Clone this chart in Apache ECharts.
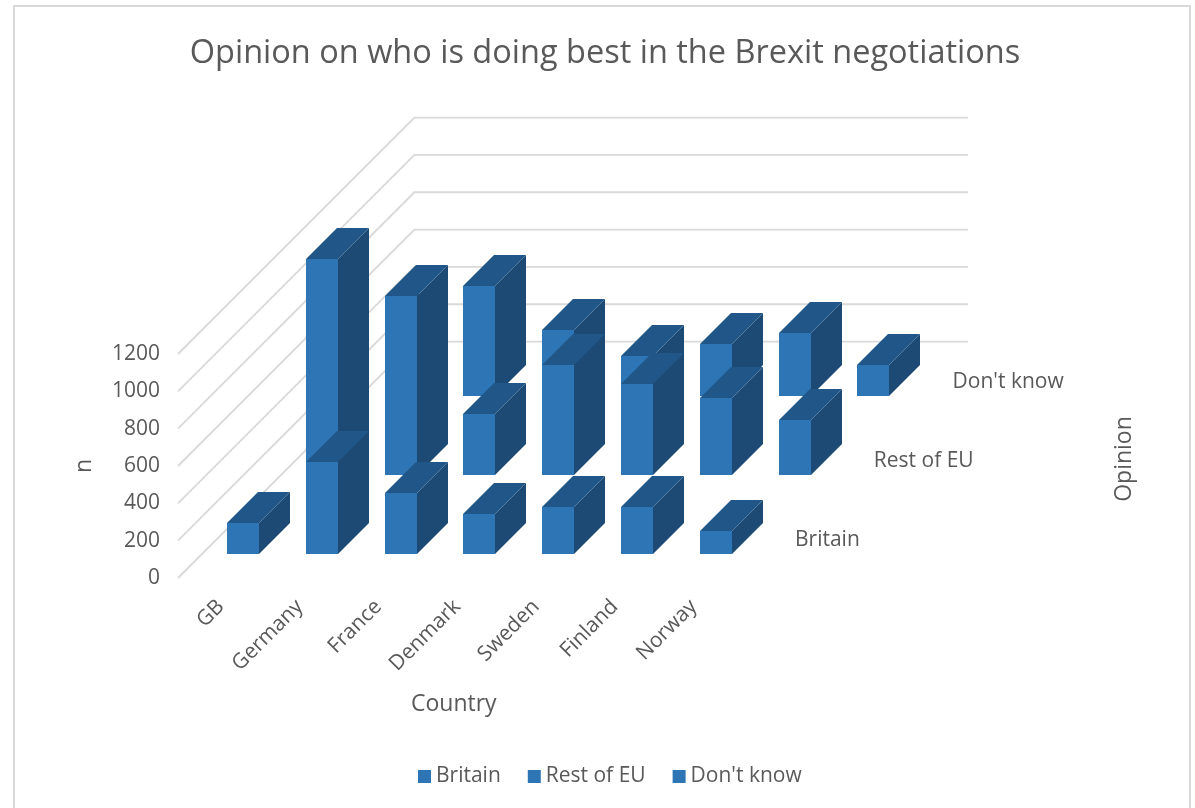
<!DOCTYPE html>
<html>
<head>
<meta charset="utf-8">
<title>Opinion on who is doing best in the Brexit negotiations</title>
<script src="https://cdn.jsdelivr.net/npm/echarts@6/dist/echarts.min.js"></script>
<style>
  html, body { margin: 0; padding: 0; background: #fff; }
  #chart { width: 1195px; height: 808px; }
</style>
</head>
<body>
<div id="chart"></div>
<script>
// Answers per country, one list per opinion
const countries = ['GB', 'Germany', 'France', 'Denmark', 'Sweden', 'Finland', 'Norway'];
const opinions = ['Britain', 'Rest of EU', "Don't know"];
const britain = [164, 491, 325, 214, 253, 250, 122];
const restOfEu = [1157, 960, 328, 593, 489, 411, 295];
const dontKnow = [380, 591, 357, 214, 279, 341, 168];
const valueTicks = [0, 200, 400, 600, 800, 1000, 1200];

const FONT = '"Open Sans", "Noto Sans", sans-serif';
const TEXT = '#595959';
const FRONT = '#2E75B6';
const TOP = '#215788';
const SIDE = '#1C4A75';

// Oblique projection: each step of depth moves a point up and to the right by one category band.
const DEPTH_OFFSET = 0.3046;  // gap from the floor's front edge to the first row, in bands
const BAR_WIDTH = 32;
const BAR_DEPTH = 31;

function shift(p, d) { return [p[0] + d, p[1] - d]; }

function poly(points, fill) {
  return {
    type: 'polygon',
    shape: { points: points },
    style: { fill: fill }
  };
}

function barRenderer(row) {
  return function (params, api) {
    const band = api.size([1, 0])[0];
    const front = band * (DEPTH_OFFSET + row);
    const base = shift(api.coord([api.value(0), 0]), front);
    const head = shift(api.coord([api.value(0), api.value(1)]), front);
    // Whole-pixel edges keep bars in different rows from bleeding through each other
    const x0 = Math.round(base[0] - BAR_WIDTH / 2 + 1.5);
    const x1 = x0 + BAR_WIDTH;
    const yb = Math.round(base[1]);
    const yt = Math.round(head[1]);
    const d = BAR_DEPTH;
    return {
      type: 'group',
      children: [
        poly([[x1, yb], [x1 + d, yb - d], [x1 + d, yt - d], [x1, yt]], SIDE),
        poly([[x0, yt], [x1, yt], [x1 + d, yt - d], [x0 + d, yt - d]], TOP),
        poly([[x0, yb], [x1, yb], [x1, yt], [x0, yt]], FRONT)
      ]
    };
  };
}

// Side wall and back wall rule for one value tick
function renderRule(params, api) {
  const band = api.size([1, 0])[0];
  const start = api.coord([0, api.value(0)]);
  const left = [start[0] - band / 2, start[1]];
  const corner = shift(left, band * 3);
  const right = [corner[0] + band * countries.length + 2, corner[1]];
  return {
    type: 'polyline',
    shape: { points: [left, corner, right] },
    style: { fill: 'none', stroke: '#D9D9D9', lineWidth: 1.8 }
  };
}

// Row names sit on the floor just past the last country
function renderRowName(params, api) {
  const band = api.size([1, 0])[0];
  const row = api.value(0);
  const last = api.coord([countries.length - 1, 0]);
  const p = shift([last[0] + band, last[1]], band * (DEPTH_OFFSET + row));
  return {
    type: 'text',
    x: p[0] + 2,
    y: p[1] - 14,
    style: {
      text: opinions[row],
      fill: TEXT,
      font: '21px ' + FONT,
      textAlign: 'left',
      textVerticalAlign: 'middle'
    }
  };
}

// Slanted country names below the floor's front edge
function renderCountryName(params, api) {
  const p = api.coord([api.value(0), 0]);
  return {
    type: 'text',
    x: p[0] - 4,
    y: p[1] + 18,
    rotation: Math.PI / 4,
    style: {
      text: countries[api.value(0)],
      fill: TEXT,
      font: '21px ' + FONT,
      textAlign: 'right',
      textVerticalAlign: 'top'
    }
  };
}

function barSeries(name, values, row) {
  return {
    name: name,
    type: 'custom',
    coordinateSystem: 'cartesian2d',
    renderItem: barRenderer(row),
    itemStyle: { color: FRONT },
    encode: { x: 0, y: 1 },
    data: values.map((v, i) => [i, v])
  };
}

const chart = echarts.init(document.getElementById('chart'));
chart.setOption({
  animation: false,
  backgroundColor: '#fff',
  title: {
    text: 'Opinion on who is doing best in the Brexit negotiations',
    left: 600,
    top: 32,
    textAlign: 'center',
    textStyle: { color: TEXT, fontFamily: FONT, fontSize: 32.5, fontWeight: 'normal' }
  },
  legend: {
    data: opinions,
    left: 418,
    top: 766,
    padding: 0,
    icon: 'rect',
    itemWidth: 13,
    itemHeight: 13,
    itemGap: 27,
    textStyle: { color: TEXT, fontFamily: FONT, fontSize: 21 }
  },
  grid: { left: 178, top: 354, width: 551.6, height: 224 },
  xAxis: {
    type: 'category',
    data: countries,
    name: 'Country',
    nameLocation: 'middle',
    nameGap: 115,
    nameTextStyle: { color: TEXT, fontFamily: FONT, fontSize: 23 },
    axisLine: { show: false },
    axisTick: { show: false },
    splitLine: { show: false },
    axisLabel: { show: false }
  },
  yAxis: {
    type: 'value',
    min: 0,
    max: 1200,
    interval: 200,
    name: 'n',
    nameLocation: 'middle',
    nameGap: 82,
    nameTextStyle: { color: TEXT, fontFamily: FONT, fontSize: 23 },
    axisLine: { show: false },
    axisTick: { show: false },
    splitLine: { show: false },
    axisLabel: {
      margin: 18,
      color: TEXT,
      fontFamily: FONT,
      fontSize: 21,
      formatter: v => String(v)
    }
  },
  graphic: [
    {
      type: 'rect',
      z: -10,
      silent: true,
      shape: { x: 14, y: 6, width: 1176, height: 820 },
      style: { fill: 'none', stroke: '#D9D9D9', lineWidth: 2 }
    },
    {
      type: 'text',
      x: 1124,
      y: 459,
      rotation: Math.PI / 2,
      silent: true,
      style: {
        text: 'Opinion',
        fill: TEXT,
        font: '23px ' + FONT,
        textAlign: 'center',
        textVerticalAlign: 'middle'
      }
    }
  ],
  series: [
    {
      type: 'custom',
      renderItem: renderRule,
      encode: { y: 0 },
      data: valueTicks.map(v => [v]),
      silent: true
    },
    barSeries("Don't know", dontKnow, 2),
    barSeries('Rest of EU', restOfEu, 1),
    barSeries('Britain', britain, 0),
    {
      type: 'custom',
      renderItem: renderRowName,
      data: opinions.map((o, i) => [i]),
      silent: true
    },
    {
      type: 'custom',
      renderItem: renderCountryName,
      data: countries.map((c, i) => [i]),
      silent: true
    }
  ]
});
</script>
</body>
</html>
